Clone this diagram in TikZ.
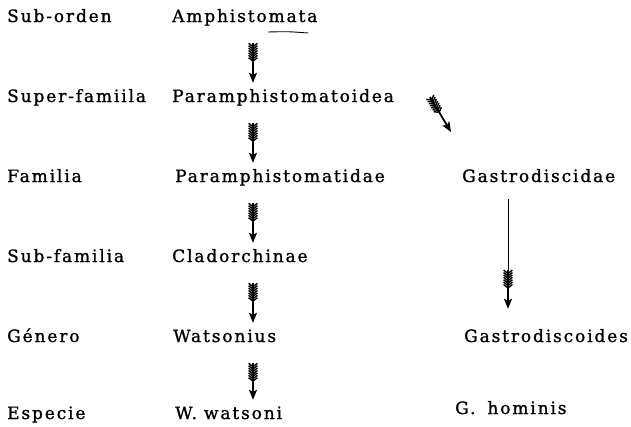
\documentclass[tikz,border=0pt]{standalone}
\usepackage{fontspec}
\setmainfont{DejaVu Serif}[LetterSpace=11, FakeBold=1.2]
\usetikzlibrary{arrows.meta,decorations.markings}
\tikzset{
  lbl/.style={anchor=base west, inner sep=0pt, text height=12pt, text depth=0pt,
    font=\fontsize{17}{20}\selectfont},
  fl/.style n args={2}{line width=1.8pt, shorten <=#1, shorten >=#2,
    -{Stealth[length=10pt,width=8pt,inset=2pt]},
    postaction={decorate, decoration={markings,
      mark=between positions #1+3.5pt and #1+19pt step 2.4pt with
      {\draw[-, shorten <=0pt, shorten >=0pt, line width=1.4pt]
        (-3.4pt,-4.4pt) -- (0,0) -- (-3.4pt,4.4pt);}}}},
  thinline/.style={line width=0.9pt}
}
\begin{document}
\begin{tikzpicture}[x=1pt,y=-1pt]
\useasboundingbox (0,0) rectangle (631,426);
% left column
\node[lbl] (suborden) at (7,22) {Sub-orden};
\node[lbl] (superfam) at (7,102) {Super-famiila};
\node[lbl] (familia) at (7,182) {Familia};
\node[lbl] (subfam) at (7,262) {Sub-familia};
\node[lbl] (genero) at (7,342) {Género};
\node[lbl] (especie) at (7,419) {Especie};
% middle column
\node[lbl] (amph) at (172,22) {Amphistomata};
\node[lbl] (pfoid) at (172,102) {Paramphistomatoidea};
\node[lbl] (pfid) at (175,182) {Paramphistomatidae};
\node[lbl] (clad) at (172,262) {Cladorchinae};
\node[lbl] (wats) at (173,342) {Watsonius};
\node[lbl] (wwats) at (175,419) {W.\hspace{7pt}watsoni};
% right column
\node[lbl] (gdisc) at (462,182) {Gastrodiscidae};
\node[lbl] (gdsc) at (464,342) {Gastrodiscoides};
\node[lbl] (ghom) at (455,414) {G.\hspace{12pt}hominis};
% connectors
\coordinate (mx) at (253,0);
\coordinate (rx) at (508,0);
\coordinate (rj) at (508,270);
\coordinate (dtail) at (430,97);
\coordinate (dtip) at (451,132);
\draw[fl={21pt}{7pt}] (amph.south -| mx) -- (pfoid.north -| mx);
\draw[fl={21pt}{7pt}] (pfoid.south -| mx) -- (pfid.north -| mx);
\draw[fl={21pt}{7pt}] (pfid.south -| mx) -- (clad.north -| mx);
\draw[fl={21pt}{7pt}] (clad.south -| mx) -- (wats.north -| mx);
\draw[fl={21pt}{7pt}] (wats.south -| mx) -- (wwats.north -| mx);
\draw[fl={0pt}{0pt}] (dtail) -- (dtip);
\draw[thinline, shorten <=17pt] (gdisc.south -| rx) -- (rj);
\draw[fl={0pt}{21pt}] (rj) -- (gdsc.north -| rx);
% stray mark under Amphistomata
\draw[line width=0.9pt] (268,32) .. controls (288,31.5) .. (308,33);
\end{tikzpicture}
\end{document}
